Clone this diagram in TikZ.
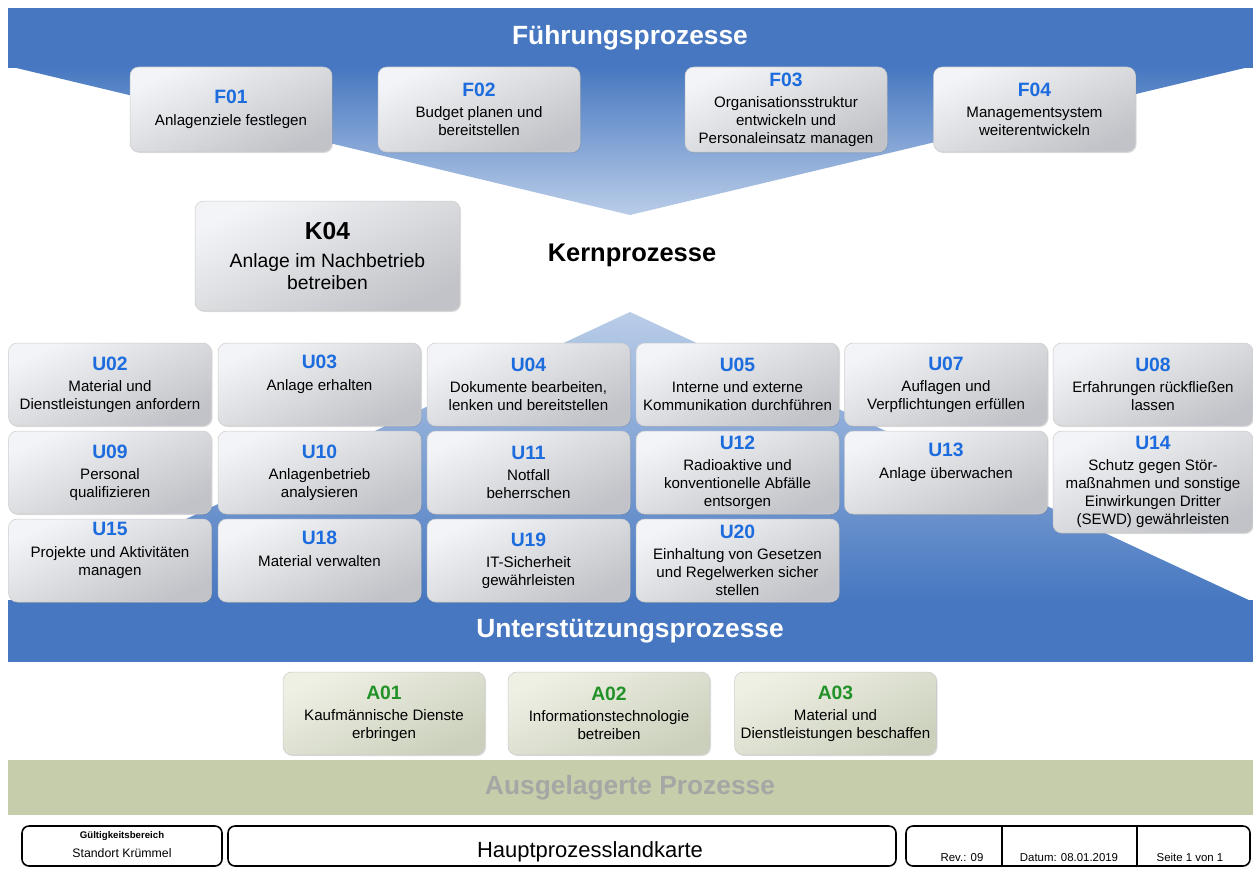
\documentclass[tikz,border=0pt]{standalone}
\usepackage{fontspec}
\setmainfont{Liberation Sans}
\usepackage{xcolor}
\usepackage{tikz}
\usetikzlibrary{shapes,shadows,positioning}

\definecolor{bandblue}{RGB}{70,119,192}
\definecolor{paleblue}{RGB}{186,205,232}
\definecolor{codeblue}{RGB}{28,108,222}
\definecolor{codegreen}{RGB}{34,146,40}
\definecolor{boxlight}{RGB}{243,244,247}
\definecolor{boxdark}{RGB}{194,195,200}
\definecolor{alight}{RGB}{238,240,228}
\definecolor{adark}{RGB}{203,208,188}
\definecolor{outband}{RGB}{197,205,171}
\definecolor{outtext}{RGB}{165,167,165}

\newcommand{\pcode}[1]{{\fontsize{11}{13}\selectfont\bfseries\color{codeblue}#1}}
\newcommand{\acode}[1]{{\fontsize{11}{13}\selectfont\bfseries\color{codegreen}#1}}

\tikzset{
  procbox/.style={rectangle, rounded corners=5pt, draw=gray!40, line width=0.3pt,
    top color=boxlight, bottom color=boxdark, shading angle=25,
    drop shadow={shadow xshift=0.6pt, shadow yshift=-0.6pt, opacity=0.25},
    align=center, inner sep=1pt,
    font=\fontsize{8.6}{10.2}\selectfont,
    minimum width=4.06cm, minimum height=1.66cm},
  outbox/.style={procbox, top color=alight, bottom color=adark, shading angle=25},
  bandtitle/.style={font=\fontsize{15}{18}\selectfont\bfseries, text=white},
  foottext/.style={font=\fontsize{6.5}{8}\selectfont, inner sep=0pt, anchor=base},
  footline/.style={draw=black, line width=0.9pt, rounded corners=4pt}
}

\begin{document}
\begin{tikzpicture}[x=0.02cm, y=-0.02cm]
  \fill[white] (0,0) rectangle (1253,872);
  \useasboundingbox (0,0) rectangle (1253,872);

  % Fuehrungsprozesse
  \shade[top color=bandblue, bottom color=paleblue] (8,66) -- (1253,66) -- (630,215) -- cycle;
  \fill[bandblue] (8,8) rectangle (1253,68);
  \node[bandtitle] (fuehrung) at (630,38) {Führungsprozesse};

  \node[procbox, minimum width=4.04cm, minimum height=1.7cm] (f01) at (231,109.5) {\pcode{F01}\\[2pt]Anlagenziele festlegen};
  \node[procbox, minimum width=4.04cm, minimum height=1.7cm] (f02) at (479,109.5) {\pcode{F02}\\[2pt]Budget planen und\\bereitstellen};
  \node[procbox, minimum width=4.04cm, minimum height=1.7cm] (f03) at (786,109.5) {\pcode{F03}\\[2pt]Organisationsstruktur\\entwickeln und\\Personaleinsatz managen};
  \node[procbox, minimum width=4.04cm, minimum height=1.7cm] (f04) at (1034.5,109.5) {\pcode{F04}\\[2pt]Managementsystem\\weiterentwickeln};

  % Kernprozesse
  \node[procbox, minimum width=5.3cm, minimum height=2.2cm, font=\fontsize{11}{12.5}\selectfont] (k04) at (327.5,256)
    {{\fontsize{14}{16}\selectfont\bfseries K04}\\[3.5pt]Anlage im Nachbetrieb\\betreiben};
  \node[font=\fontsize{14.5}{17}\selectfont\bfseries] (kern) at (632,255) {Kernprozesse};

  % Unterstuetzungsprozesse
  \shade[top color=paleblue, bottom color=bandblue] (630,312) -- (1253,602) -- (8,602) -- cycle;
  \fill[bandblue] (8,600) rectangle (1253,662);
  \node[bandtitle] (unterst) at (630,631) {Unterstützungsprozesse};

  \node[procbox] (u02) at (110,384.5) {\pcode{U02}\\[2pt]Material und\\Dienstleistungen anfordern};
  \node[procbox] (u03) at (319.5,384.5) {\pcode{U03}\\[2pt]Anlage erhalten\\\strut};
  \node[procbox] (u04) at (528.5,384.5) {\pcode{U04}\\[2pt]Dokumente bearbeiten,\\lenken und bereitstellen};
  \node[procbox] (u05) at (737.5,384.5) {\pcode{U05}\\[2pt]Interne und externe\\Kommunikation durchführen};
  \node[procbox] (u07) at (946,384.5) {\pcode{U07}\\[2pt]Auflagen und\\Verpflichtungen erfüllen};
  \node[procbox, minimum width=4cm] (u08) at (1153,384.5) {\pcode{U08}\\[2pt]Erfahrungen rückfließen\\lassen};

  \node[procbox] (u09) at (110,472.5) {\pcode{U09}\\[2pt]Personal\\qualifizieren};
  \node[procbox] (u10) at (319.5,472.5) {\pcode{U10}\\[2pt]Anlagenbetrieb\\analysieren};
  \node[procbox] (u11) at (528.5,472.5) {\pcode{U11}\\[2pt]Notfall\\beherrschen};
  \node[procbox] (u12) at (737.5,472.5) {\pcode{U12}\\[2pt]Radioaktive und\\konventionelle Abfälle\\entsorgen};
  \node[procbox] (u13) at (946,472.5) {\pcode{U13}\\[2pt]Anlage überwachen\\\strut};
  \node[procbox, minimum width=4cm, minimum height=2.04cm] (u14) at (1153,482) {\pcode{U14}\\[2pt]Schutz gegen Stör-\\maßnahmen und sonstige\\Einwirkungen Dritter\\(SEWD) gewährleisten};

  \node[procbox] (u15) at (110,560.5) {\pcode{U15}\\[2pt]Projekte und Aktivitäten\\managen\\\strut};
  \node[procbox] (u18) at (319.5,560.5) {\pcode{U18}\\[2pt]Material verwalten\\\strut};
  \node[procbox] (u19) at (528.5,560.5) {\pcode{U19}\\[2pt]IT-Sicherheit\\gewährleisten};
  \node[procbox] (u20) at (737.5,560.5) {\pcode{U20}\\[2pt]Einhaltung von Gesetzen\\und Regelwerken sicher\\stellen};

  % Ausgelagerte Prozesse
  \node[outbox, minimum width=4.04cm] (a01) at (384,713.5) {\acode{A01}\\[2pt]Kaufmännische Dienste\\erbringen};
  \node[outbox, minimum width=4.04cm] (a02) at (609,713.5) {\acode{A02}\\[2pt]Informationstechnologie\\betreiben};
  \node[outbox, minimum width=4.04cm] (a03) at (835.5,713.5) {\acode{A03}\\[2pt]Material und\\Dienstleistungen beschaffen};

  \fill[outband] (8,760) rectangle (1253,815);
  \node[bandtitle, text=outtext] (ausgel) at (630,788) {Ausgelagerte Prozesse};

  % Fusszeile
  \draw[footline] (22,826) rectangle (222,866);
  \draw[footline] (228,826) rectangle (896,866);
  \draw[footline] (906,826) rectangle (1250,866);
  \draw[line width=0.9pt] (1002,826) -- (1002,866);
  \draw[line width=0.9pt] (1137,826) -- (1137,866);

  \node[foottext, font=\fontsize{5.5}{7}\selectfont\bfseries] (gueltig) at (122,838) {Gültigkeitsbereich};
  \node[foottext, font=\fontsize{7}{8}\selectfont] (standort) at (122,857) {Standort Krümmel};
  \node[font=\fontsize{12.5}{15}\selectfont] (karte) at (590,852) {Hauptprozesslandkarte};
  \node[foottext] (rev) at (962,861) {Rev.: 09};
  \node[foottext] (datum) at (1069,861) {Datum: 08.01.2019};
  \node[foottext] (seite) at (1190,861) {Seite 1 von 1};
\end{tikzpicture}
\end{document}
